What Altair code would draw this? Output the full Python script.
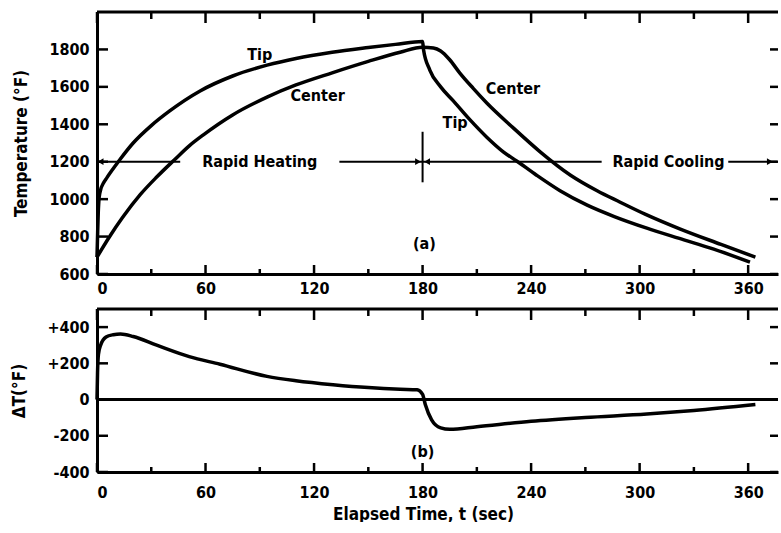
import altair as alt
import pandas as pd

# ---------------- data ----------------
tip_t = [0, 0.3, 0.7, 1.2, 2, 3.5, 5.5, 8, 12.7, 20, 30, 40, 57, 75, 94, 110, 130, 150, 165, 180,
         180.5, 184, 190, 197, 206, 215.5, 224.6, 232, 243, 256, 271, 286, 304, 322, 341, 361]
tip_T = [690, 800, 930, 1010, 1050, 1085, 1115, 1150, 1212, 1300, 1393, 1470, 1578, 1658, 1716, 1752, 1785, 1810, 1827, 1843,
         1800, 1690, 1600, 1525, 1426, 1331, 1253, 1204, 1128, 1045, 968, 907, 845, 790, 733, 663]

center_t = [0, 7, 14, 24, 33, 43, 51, 59, 75, 94, 110, 130, 150, 167.6, 180,
            186, 190, 195, 200.5, 208, 215.5, 230, 245, 261.8, 276.5, 289, 303, 322.5, 345, 364]
center_T = [690, 800, 900, 1025, 1118, 1212, 1285, 1345, 1450, 1545, 1610, 1675, 1736, 1785, 1812,
            1808, 1792, 1745, 1675, 1592, 1514, 1382, 1253, 1128, 1045, 985, 920, 840, 758, 690]

dT_t = [0, 0.3, 0.8, 2, 5, 9, 13, 20, 33, 51, 68, 94, 110, 130.5, 150, 167.6, 177, 180, 181.5, 185, 190, 195,
        210, 240, 270, 304, 330, 364]
dT_v = [0, 150, 250, 300, 345, 358, 362, 348, 300, 237, 195, 128, 104, 82, 66, 57, 54, 28, -27, -112, -156, -164,
        -150, -120, -99, -80, -60, -27]

x_major = [0, 60, 120, 180, 240, 300, 360]
x_minor = [30, 90, 150, 210, 270, 330]
temp_ticks = [600, 800, 1000, 1200, 1400, 1600, 1800]
dt_ticks = [-400, -200, 0, 200, 400]

top_labels = ["Tip", "Center", "Center", "Tip", "Rapid Heating", "Rapid Cooling", "(a)"]
top_label_t = [90, 122, 230, 198, 90, 316, 181]
top_label_v = [1770, 1551, 1589, 1407, 1200, 1200, 760]

bot_labels = ["(b)"]
bot_label_t = [180]
bot_label_v = [-290]

phase_x = [0, 134, 180, 349]
phase_x2 = [46, 180, 279, 376]
phase_level = [1200]
arrow_left_t = [2, 182.5]
arrow_right_t = [177.5, 372]
divider_t = [180]
divider_lo = [1090]
divider_hi = [1360]

# ---------------- layout constants ----------------
W = 681
H1 = 262
H2 = 163
FONT = "DejaVu Sans Condensed, Liberation Sans Narrow, sans-serif"
xscale = alt.Scale(domain=[0, 376.5], nice=False, zero=False)
BLACK = "black"


def tick_layers(yvals, height, yscale):
    """Inward ticks on the four sides of a panel, plus the top border."""
    layers = []
    maj = pd.DataFrame({"t": x_major})
    mnr = pd.DataFrame({"t": x_minor})
    for df, ln in ((maj, 11), (mnr, 7)):
        layers.append(alt.Chart(df).mark_rule(color=BLACK, strokeWidth=2.5).encode(
            x=alt.X("t:Q", scale=xscale), y=alt.value(0), y2=alt.value(ln)))
        layers.append(alt.Chart(df).mark_rule(color=BLACK, strokeWidth=2.5).encode(
            x=alt.X("t:Q", scale=xscale), y=alt.value(height), y2=alt.value(height - ln + 2)))
    ydf = pd.DataFrame({"v": yvals})
    layers.append(alt.Chart(ydf).mark_rule(color=BLACK, strokeWidth=2.5).encode(
        y=alt.Y("v:Q", scale=yscale), x=alt.value(0), x2=alt.value(11)))
    layers.append(alt.Chart(ydf).mark_rule(color=BLACK, strokeWidth=2.5).encode(
        y=alt.Y("v:Q", scale=yscale), x=alt.value(W), x2=alt.value(W - 8)))
    layers.append(alt.Chart(pd.DataFrame({"t": [0]})).mark_rule(color=BLACK, strokeWidth=3).encode(
        x=alt.value(0), x2=alt.value(W), y=alt.value(0)))
    return layers


# ---------------- top panel ----------------
yscale_top = alt.Scale(domain=[600, 2000], nice=False, zero=False)
temp_df = pd.concat([
    pd.DataFrame({"t": tip_t, "v": tip_T, "s": "Tip"}),
    pd.DataFrame({"t": center_t, "v": center_T, "s": "Center"}),
])

top_lines = alt.Chart(temp_df).mark_line(color=BLACK, strokeWidth=3.5, interpolate="monotone").encode(
    x=alt.X("t:Q", scale=xscale,
            axis=alt.Axis(values=x_major, title=None, labelFlush=True, labelPadding=6, format="d")),
    y=alt.Y("v:Q", scale=yscale_top,
            axis=alt.Axis(values=temp_ticks, title="Temperature (°F)", labelPadding=8, titlePadding=18, format="d")),
    detail="s:N",
)

phase_df = pd.DataFrame({"t": phase_x, "t2": phase_x2, "v": phase_level * len(phase_x)})
phase = alt.Chart(phase_df).mark_rule(color=BLACK, strokeWidth=2).encode(
    x=alt.X("t:Q", scale=xscale), x2="t2:Q", y=alt.Y("v:Q", scale=yscale_top))

arr_l = alt.Chart(pd.DataFrame({"t": arrow_left_t, "v": phase_level * len(arrow_left_t)})).mark_point(
    shape="triangle-left", filled=True, color=BLACK, size=45, opacity=1).encode(
    x=alt.X("t:Q", scale=xscale), y=alt.Y("v:Q", scale=yscale_top))
arr_r = alt.Chart(pd.DataFrame({"t": arrow_right_t, "v": phase_level * len(arrow_right_t)})).mark_point(
    shape="triangle-right", filled=True, color=BLACK, size=45, opacity=1).encode(
    x=alt.X("t:Q", scale=xscale), y=alt.Y("v:Q", scale=yscale_top))

divider = alt.Chart(pd.DataFrame({"t": divider_t, "v": divider_lo, "v2": divider_hi})).mark_rule(
    color=BLACK, strokeWidth=2).encode(
    x=alt.X("t:Q", scale=xscale), y=alt.Y("v:Q", scale=yscale_top), y2="v2:Q")

top_text = alt.Chart(pd.DataFrame({"t": top_label_t, "v": top_label_v, "label": top_labels})).mark_text(
    font=FONT, fontSize=16, fontWeight="bold", color=BLACK).encode(
    x=alt.X("t:Q", scale=xscale), y=alt.Y("v:Q", scale=yscale_top), text="label:N")

top = alt.layer(
    top_lines, phase, top_text, arr_l, arr_r, divider,
    *tick_layers(temp_ticks, H1, yscale_top)
).properties(width=W, height=H1)

# ---------------- bottom panel ----------------
yscale_bot = alt.Scale(domain=[-400, 500], nice=False, zero=False)
dt_df = pd.DataFrame({"t": dT_t, "v": dT_v})
bot_line = alt.Chart(dt_df).mark_line(color=BLACK, strokeWidth=3.5, interpolate="monotone").encode(
    x=alt.X("t:Q", scale=xscale,
            axis=alt.Axis(values=x_major, title="Elapsed Time, t (sec)", labelPadding=12,
                          titlePadding=6, titleX=326, format="d")),
    y=alt.Y("v:Q", scale=yscale_bot,
            axis=alt.Axis(values=dt_ticks, title="ΔT(°F)", labelPadding=8, titlePadding=18,
                          labelExpr="datum.value > 0 ? '+' + datum.value : '' + datum.value")),
)
zero_line = alt.Chart(pd.DataFrame({"v": [0]})).mark_rule(color=BLACK, strokeWidth=3).encode(
    y=alt.Y("v:Q", scale=yscale_bot), x=alt.value(0), x2=alt.value(W))
bot_text = alt.Chart(pd.DataFrame({"t": bot_label_t, "v": bot_label_v, "label": bot_labels})).mark_text(
    font=FONT, fontSize=16, fontWeight="bold", color=BLACK).encode(
    x=alt.X("t:Q", scale=xscale), y=alt.Y("v:Q", scale=yscale_bot), text="label:N")

bottom = alt.layer(
    bot_line, zero_line, bot_text,
    *tick_layers(dt_ticks, H2, yscale_bot)
).properties(width=W, height=H2)

chart = alt.vconcat(top, bottom, spacing=11).properties(
    padding={"left": 10, "top": 10, "right": 0, "bottom": 0}
).configure_view(stroke=None).configure_axis(
    labelFont=FONT, labelFontSize=16, labelFontWeight="bold", labelColor=BLACK,
    titleFont=FONT, titleFontSize=17, titleFontWeight="bold", titleColor=BLACK,
    domainColor=BLACK, domainWidth=3, ticks=False, grid=False,
)

chart.save("out.html", embed_options={"renderer": "svg", "actions": False})
